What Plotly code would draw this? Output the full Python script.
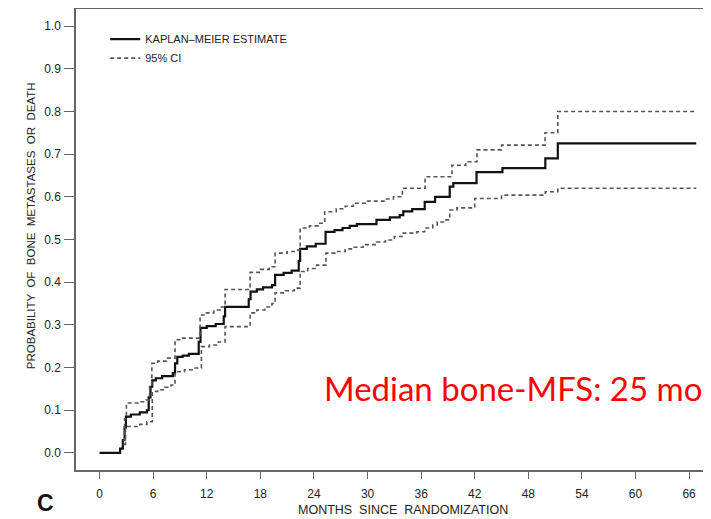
import plotly.graph_objects as go

# Kaplan-Meier estimate (months, cumulative probability)
km_t = [0, 2.3, 2.6, 2.8, 2.95, 3.5, 4.5, 5.3, 5.5, 5.7, 5.9, 6.3, 7.0, 8.2, 8.45, 8.7, 9.3, 10.0,
        11.1, 11.3, 12.0, 13.0, 13.9, 14.05, 16.7, 16.9, 17.6, 18.3, 19.3, 19.65, 20.6, 21.5,
        22.3, 22.45, 23.2, 24.2, 25.3, 26.3, 27.2, 28.0, 28.8, 31.0, 32.5, 33.6, 34.0, 35.0,
        36.4, 37.56, 39.2, 39.6, 42.2, 45.1, 49.9, 51.3, 66.8]
km_p = [0, 0.01, 0.03, 0.06, 0.085, 0.09, 0.095, 0.10, 0.13, 0.155, 0.17, 0.175, 0.18, 0.187, 0.21,
        0.225, 0.228, 0.232, 0.26, 0.293, 0.297, 0.302, 0.32, 0.342, 0.36, 0.378, 0.383, 0.388,
        0.393, 0.417, 0.422, 0.427, 0.45, 0.478, 0.484, 0.49, 0.518, 0.522, 0.527, 0.532, 0.536,
        0.546, 0.552, 0.557, 0.566, 0.571, 0.588, 0.600, 0.624, 0.632, 0.658, 0.667, 0.69, 0.725,
        0.725]

# Upper 95% CI
up_t = [2.6, 2.8, 3.0, 4.5, 5.2, 5.6, 5.85, 6.5, 7.5, 8.45, 9.2, 11.25, 11.8, 12.8, 13.5, 14.05,
        16.85, 18.0, 19.0, 19.65, 21.0, 22.0, 22.45, 23.5, 24.5, 25.2, 26.5, 27.5, 28.4, 30.0,
        32.0, 32.9, 33.9, 36.44, 39.45, 41.0, 42.25, 45.0, 49.87, 51.3, 66.8]
up_p = [0.03, 0.08, 0.117, 0.12, 0.124, 0.16, 0.21, 0.215, 0.222, 0.265, 0.269, 0.323, 0.328,
        0.335, 0.342, 0.383, 0.423, 0.430, 0.436, 0.468, 0.472, 0.475, 0.527, 0.532, 0.538,
        0.565, 0.572, 0.578, 0.585, 0.590, 0.595, 0.600, 0.620, 0.647, 0.674, 0.682, 0.71,
        0.721, 0.75, 0.80, 0.80]

# Lower 95% CI
lo_t = [2.7, 2.9, 4.5, 5.3, 5.9, 6.5, 7.3, 8.0, 8.45, 9.5, 10.5, 11.4, 12.3, 13.3, 14.05, 16.85,
        17.6, 18.5, 19.3, 19.65, 20.8, 21.8, 22.45, 23.3, 24.3, 25.35, 26.5, 27.5, 28.5, 29.5,
        31.0, 32.0, 33.0, 34.0, 35.5, 36.4, 37.3, 37.8, 38.5, 39.2, 40.0, 42.0, 45.0, 49.9,
        51.3, 66.8]
lo_p = [0.02, 0.062, 0.067, 0.073, 0.144, 0.148, 0.154, 0.159, 0.19, 0.195, 0.199, 0.249, 0.253,
        0.26, 0.296, 0.328, 0.335, 0.342, 0.35, 0.375, 0.38, 0.386, 0.425, 0.432, 0.44, 0.468,
        0.472, 0.478, 0.482, 0.488, 0.494, 0.499, 0.507, 0.515, 0.518, 0.527, 0.534, 0.541,
        0.546, 0.569, 0.574, 0.596, 0.604, 0.612, 0.62, 0.62]

x_ticks = [0, 6, 12, 18, 24, 30, 36, 42, 48, 54, 60, 66]
y_ticks = [0.0, 0.1, 0.2, 0.3, 0.4, 0.5, 0.6, 0.7, 0.8, 0.9, 1.0]

FONT = "Liberation Sans, Arial, sans-serif"
AX = "#666666"
TXT = "#222222"

fig = go.Figure()
fig.add_trace(go.Scatter(x=km_t, y=km_p, mode="lines", line_shape="hv",
                         line=dict(color="#111111", width=2.2),
                         name="KAPLAN\u2013MEIER ESTIMATE"))
fig.add_trace(go.Scatter(x=up_t, y=up_p, mode="lines", line_shape="hv",
                         line=dict(color="#555555", width=1.6, dash="4px,3px"),
                         name="95% CI", legendgroup="ci"))
fig.add_trace(go.Scatter(x=lo_t, y=lo_p, mode="lines", line_shape="hv",
                         line=dict(color="#555555", width=1.6, dash="4px,3px"),
                         name="95% CI", legendgroup="ci", showlegend=False))

# page body has an 8px default margin, so the figure is 8px smaller than the window
fig.update_layout(
    width=703, height=511,
    margin=dict(l=68, r=0, t=1, b=49),
    paper_bgcolor="white", plot_bgcolor="white",
    font=dict(family=FONT, size=12, color=TXT),
    showlegend=True,
    legend=dict(x=0.046, y=0.966, xanchor="left", yanchor="top",
                bgcolor="rgba(0,0,0,0)", font=dict(size=11, color=TXT),
                tracegroupgap=0, itemwidth=30),
    xaxis=dict(range=[-2.64, 68.45], tickvals=x_ticks, ticktext=[str(v) for v in x_ticks],
               showgrid=False, zeroline=False, showline=True, mirror=True,
               linecolor=AX, linewidth=1.5, ticks="outside", ticklen=7,
               tickcolor=AX, tickwidth=1.2, tickfont=dict(size=12, color=TXT),
               ticklabelstandoff=5),
    yaxis=dict(range=[-0.04, 1.04], tickvals=y_ticks, ticktext=[f"{v:.1f}" for v in y_ticks],
               showgrid=False, zeroline=False, showline=True, mirror=False,
               linecolor=AX, linewidth=1.5, ticks="outside", ticklen=10,
               tickcolor=AX, tickwidth=1.2, tickfont=dict(size=12, color=TXT),
               ticklabelstandoff=1),
    annotations=[
        dict(text="PROBABILITY  OF  BONE  METASTASES  OR  DEATH", xref="paper", yref="paper",
             x=-0.0709, y=0.531, xanchor="center", yanchor="middle", textangle=-90,
             showarrow=False, font=dict(size=11.5, family=FONT, color=TXT)),
        dict(text="MONTHS  SINCE  RANDOMIZATION", xref="paper", yref="paper",
             x=0.515, y=-0.087, xanchor="center", yanchor="middle", showarrow=False,
             font=dict(size=12.5, family=FONT, color=TXT)),
        dict(text="<b>C</b>", xref="paper", yref="paper", x=-0.0488, y=-0.0716,
             xanchor="center", yanchor="middle",
             showarrow=False, font=dict(size=23, family=FONT, color="#111111")),
        dict(text="Median bone-MFS: 25 mo", xref="paper", yref="paper",
             x=0.688, y=0.178, xanchor="center", yanchor="middle", showarrow=False,
             font=dict(size=33, family="Lato, Noto Sans, sans-serif", color="#ff0000")),
    ],
)

fig.write_html("out.html")
